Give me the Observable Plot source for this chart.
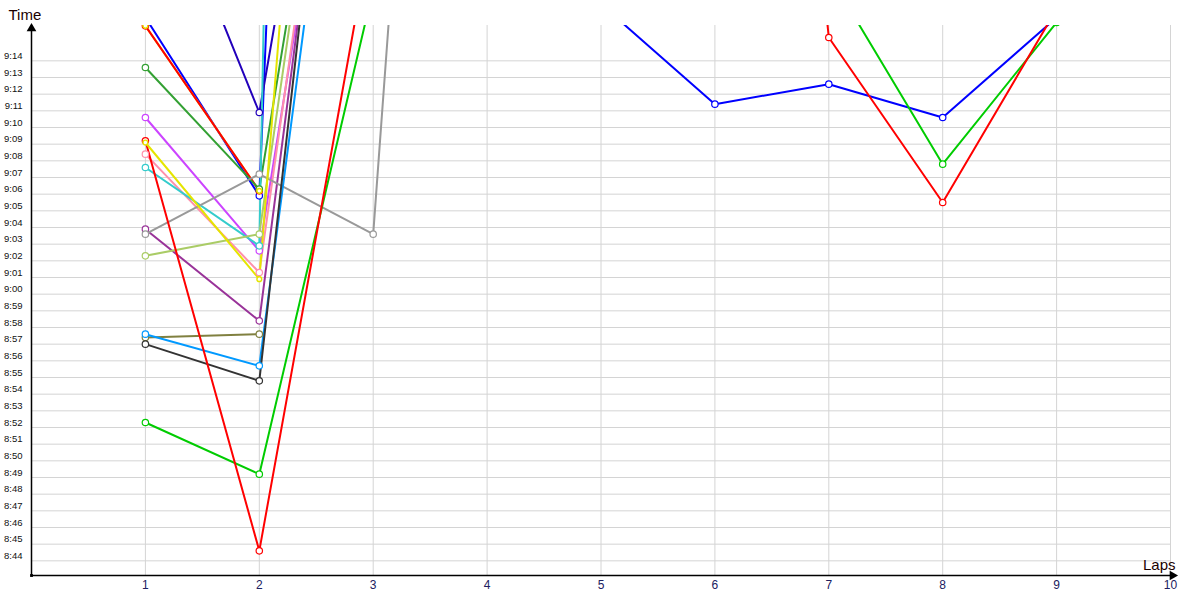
<!DOCTYPE html>
<html><head><meta charset="utf-8">
<script src="https://cdn.jsdelivr.net/npm/d3@7"></script>
<script src="https://cdn.jsdelivr.net/npm/@observablehq/plot@0.6"></script>
<style>body{margin:0;background:#fff;} svg{display:block}</style>
</head><body><div id="chart"></div>
<script>
// Laps (x) and tick labels
const laps = [1, 2, 3, 4, 5, 6, 7, 8, 9];
const xTicks = [1, 2, 3, 4, 5, 6, 7, 8, 9, 10];
const yTicks = ["8:44","8:45","8:46","8:47","8:48","8:49","8:50","8:51","8:52","8:53","8:54","8:55","8:56","8:57","8:58","8:59",
                "9:00","9:01","9:02","9:03","9:04","9:05","9:06","9:07","9:08","9:09","9:10","9:11","9:12","9:13","9:14"];
const yDomain = ["8:43.12", "9:16.12"];

// Series (lap times, m:ss.s; null = no value)
const seriesNames = ["blue", "indigo", "yellow2", "red1", "forestgreen", "violet", "pink", "turquoise", "purple", "gray",
                     "yellowgreen", "olive", "dodgerblue", "black", "green", "red2", "yellow"];
const seriesColors = ["#0000ff", "#2200bb", "#e5e500", "#ff0000", "#33a033", "#cc44ff", "#ff8fab", "#33cccc", "#993399", "#999999",
                      "#aacc66", "#808040", "#0099ff", "#333333", "#00cc00", "#ff0000", "#e5e500"];
const blue        = ["9:16.6", "9:05.9", "11:51.6", null, "9:17.4", "9:11.4", "9:12.6", "9:10.6", "9:16.6"];
const indigo      = ["9:27.8", "9:10.9", "9:50.2"];
const yellow2     = ["9:16.1", "9:06.2"];
const red1        = ["9:16.1", "9:06.2"];
const forestgreen = ["9:13.6", "9:06.3", "9:47.8"];
const violet      = ["9:10.6", "9:02.6", "9:44.9"];
const pink        = ["9:08.4", "9:01.3", "9:49.4"];
const turquoise   = ["9:07.6", "9:02.9", "14:53.0"];
const purple      = ["9:03.9", "8:58.4", "9:51.3"];
const gray        = ["9:03.6", "9:07.2", "9:03.6", "10:37.0"];
const yellowgreen = ["9:02.3", "9:03.6", "9:50.7"];
const olive       = ["8:57.4", "8:57.6"];
const dodgerblue  = ["8:57.6", "8:55.7", "9:47.6"];
const black       = ["8:57.0", "8:54.8", "9:55.4"];
const green       = ["8:52.3", "8:49.2", "9:18.3", null, null, null, "9:19.2", "9:07.8", "9:16.3"];
const red2        = ["9:09.2", "8:44.6", "9:22.4", null, null, "10:22.0", "9:15.4", "9:05.5", "9:17.1"];
const yellow      = ["9:09.1", "9:00.9", "10:26.0"];

const seriesValues = [blue, indigo, yellow2, red1, forestgreen, violet, pink, turquoise, purple, gray,
                      yellowgreen, olive, dodgerblue, black, green, red2, yellow];

const parseT = s => { const [m, sec] = s.split(":"); return +m * 60 + +sec; };
const fmtT = v => { const m = Math.floor(v / 60); const s = Math.round(v - m * 60); return m + ":" + String(s).padStart(2, "0"); };

const table = [];
seriesNames.forEach((name, i) => {
  seriesValues[i].forEach((v, j) => {
    table.push({name, color: seriesColors[i], lap: laps[j], t: v == null ? NaN : parseT(v)});
  });
});
const dotsMain = table.filter(d => !isNaN(d.t) && d.name !== "yellow" && d.name !== "yellow2");
const dotsInner = table.filter(d => !isNaN(d.t) && (d.name === "yellow" || d.name === "yellow2"));

const yTickVals = yTicks.map(parseT);
const y0 = parseT(yDomain[0]), y1 = parseT(yDomain[1]);

const chart = Plot.plot({
  width: 1200, height: 600,
  marginLeft: 31, marginRight: 30, marginTop: 25, marginBottom: 25,
  style: {fontFamily: "Liberation Sans, Arial, sans-serif", background: "#fff"},
  x: {domain: [0, 10], axis: null},
  y: {domain: [y0, y1], axis: null},
  color: {type: "identity"},
  marks: [
    Plot.ruleY(yTickVals, {stroke: "#d4d4d4", strokeWidth: 1}),
    Plot.ruleX(xTicks, {stroke: "#d4d4d4", strokeWidth: 1}),
    Plot.line(table, {x: "lap", y: "t", z: "name", stroke: "color", strokeWidth: 2, clip: true}),
    Plot.dot(dotsMain, {x: "lap", y: "t", stroke: "color", fill: "white", r: 3.2, strokeWidth: 1.2, clip: true}),
    Plot.dot(dotsInner, {x: "lap", y: "t", stroke: "color", fill: "white", r: 2.4, strokeWidth: 1.4, clip: true}),
    // axes
    Plot.ruleX([0], {stroke: "black", strokeWidth: 1.5}),
    Plot.ruleY([y0], {stroke: "black", strokeWidth: 1.5}),
    Plot.dot([0], {x: d => d, y: () => y1, symbol: "triangle", r: 3.6, fill: "black", dy: 3}),
    Plot.dot([0], {x: () => 10, y: () => y0, symbol: "triangle", r: 3.6, fill: "black", rotate: 90, dx: 2}),
    Plot.dot([0], {x: () => 0, y: () => y0, symbol: "square", r: 1.6, fill: "black"}),
    // tick labels
    Plot.text(yTickVals, {frameAnchor: "left", y: d => d, text: d => fmtT(d), textAnchor: "end", dx: -9, dy: -5, fontSize: 9.5, fill: "#111"}),
    Plot.text(xTicks, {frameAnchor: "bottom", x: d => d, text: d => String(d), dy: 13.5, fontSize: 12, fill: "#202060"}),
    // axis titles
    Plot.text(["Time"], {frameAnchor: "top-left", text: d => d, textAnchor: "start", dx: -23, dy: -16, fontSize: 15, fill: "#1a0000"}),
    Plot.text(["Laps"], {frameAnchor: "bottom-right", text: d => d, textAnchor: "end", dx: 5, dy: -6, fontSize: 15, fill: "#1a0000"})
  ]
});
document.getElementById("chart").appendChild(chart);
</script>
</body></html>
